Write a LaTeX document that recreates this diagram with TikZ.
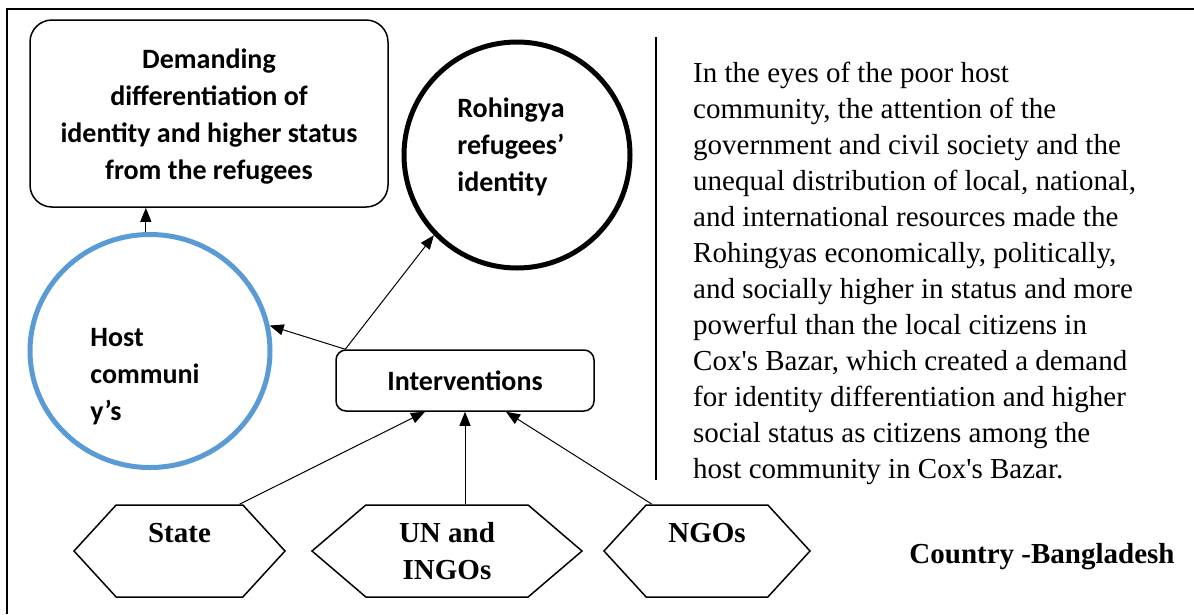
\documentclass[tikz,border=0pt]{standalone}
\usepackage{fontspec}
\setmainfont{Liberation Serif}
\newfontfamily\labelfont{Carlito}
\usetikzlibrary{shapes.geometric,shapes.symbols,arrows.meta}
\definecolor{hostblue}{RGB}{91,155,213}

\begin{document}
\begin{tikzpicture}[x=1pt, y=-1pt,
  boxlbl/.style={font=\labelfont\bfseries\fontsize{28}{37}\selectfont, align=center},
  hexa/.style={draw, line width=1.5pt, signal, signal to=east and west, minimum height=92pt, inner sep=0pt, font=\bfseries\fontsize{29}{37}\selectfont, align=center},
  arr/.style={-{Triangle[length=14pt,width=11pt]}, line width=1pt}]

\useasboundingbox (0,0) rectangle (1194,614);
% frame, cut off on the right and at the bottom
\draw [line width=2pt] (1194,9) -- (7,9) -- (7,614);

\node [draw, rounded corners=22pt, line width=1.5pt, minimum width=358pt, minimum height=187pt, boxlbl] (dem) at (209,113.5) {\rule{0pt}{25pt}Demanding\\differentiation of\\identity and higher status\\from the refugees};
\node [draw, circle, line width=5pt, minimum size=226pt, label={[boxlbl, align=left, xshift=-6pt, yshift=8pt]center:Rohingya\\refugees’\\identity}] (roh) at (517,155) {};
\node [draw=hostblue, ellipse, line width=5pt, minimum width=240pt, minimum height=233pt, label={[boxlbl, align=left, xshift=-5pt, yshift=-26pt]center:Host\\communi\\y’s}] (host) at (150,351) {};
\node [draw, rounded corners=10pt, line width=1.5pt, minimum width=258pt, minimum height=61pt, boxlbl] (inter) at (465,380.5) {Interventions};

\node [hexa, minimum width=211pt, signal pointer angle=95] (state) at (179.5,551) {State\\\mbox{}};
\node [hexa, minimum width=270pt, signal pointer angle=81] (un) at (447,551) {UN and\\INGOs};
\node [hexa, minimum width=206pt, signal pointer angle=95] (ngo) at (707,551) {NGOs\\\mbox{}};

\draw [arr] (host.92) -- (host.92 |- dem.south);
\draw [arr] ([xshift=10pt]inter.north west) -- (host.12);
\draw [arr] ([xshift=10pt]inter.north west) -- (roh.224);
\draw [arr] ([xshift=60pt]state.north) -- ([xshift=-40pt]inter.south);
\draw [arr] (un.north -| inter.south) -- (inter.south);
\draw [arr] ([xshift=-55pt]ngo.north) -- ([xshift=41pt]inter.south);

\draw [line width=2pt] (656,37) -- (656,480);
\node [align=left, inner sep=0pt, anchor=north west, font=\fontsize{29}{36}\selectfont] (desc) at (693,62) {In the eyes of the poor host\\community, the attention of the\\government and civil society and the\\unequal distribution of local, national,\\and international resources made the\\Rohingyas economically, politically,\\and socially higher in status and more\\powerful than the local citizens in\\Cox\textquotesingle s Bazar, which created a demand\\for identity differentiation and higher\\social status as citizens among the\\host community in Cox\textquotesingle s Bazar.};
\node [font=\bfseries\fontsize{29}{36}\selectfont] (country) at (1042,557) {Country -Bangladesh};
\end{tikzpicture}
\end{document}
